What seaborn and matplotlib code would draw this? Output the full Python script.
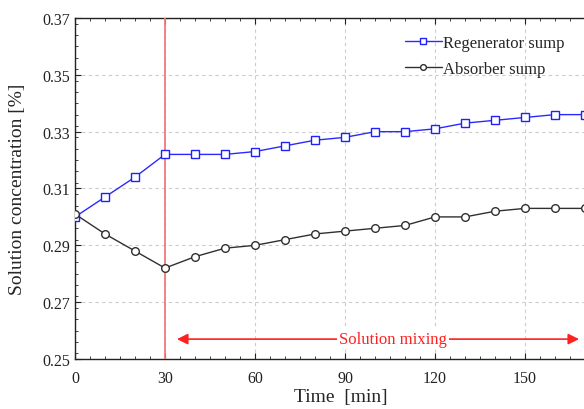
import numpy as np
import pandas as pd
import matplotlib
matplotlib.use('Agg')
import matplotlib.pyplot as plt
from matplotlib.ticker import MultipleLocator
import seaborn as sns

# Data
time_min = [0, 10, 20, 30, 40, 50, 60, 70, 80, 90, 100, 110, 120, 130, 140, 150, 160, 170]
regenerator = [0.300, 0.307, 0.314, 0.322, 0.322, 0.322, 0.323, 0.325, 0.327, 0.328,
               0.330, 0.330, 0.331, 0.333, 0.334, 0.335, 0.336, 0.336]
absorber = [0.301, 0.294, 0.288, 0.282, 0.286, 0.289, 0.290, 0.292, 0.294, 0.295,
            0.296, 0.297, 0.300, 0.300, 0.302, 0.303, 0.303, 0.303]
mixing_start = 30
x_ticks = [0, 30, 60, 90, 120, 150]
y_ticks = [0.25, 0.27, 0.29, 0.31, 0.33, 0.35, 0.37]

sns.set_style('ticks')
plt.rcParams['font.family'] = ['Liberation Serif', 'DejaVu Serif']

df = pd.DataFrame({'time': time_min, 'regen': regenerator, 'absorb': absorber})

fig = plt.figure(figsize=(5.84, 4.10), dpi=100)
ax = fig.add_axes([75 / 584, 50 / 410, 510 / 584, 341 / 410])

sns.lineplot(data=df, x='time', y='regen', ax=ax, color='#2a2aff', lw=1.0,
             marker='s', markersize=5.5, markerfacecolor='white',
             markeredgecolor='#2020ff', markeredgewidth=1.0,
             label='Regenerator sump', zorder=4)
sns.lineplot(data=df, x='time', y='absorb', ax=ax, color='#303030', lw=1.0,
             marker='o', markersize=5.5, markerfacecolor='white',
             markeredgecolor='#303030', markeredgewidth=1.0,
             label='Absorber sump', zorder=4)

ax.axvline(mixing_start, color='#f27a7a', lw=1.3, zorder=3)

# mixing arrow
ax.annotate('', xy=(34, 0.257), xytext=(168, 0.257),
            arrowprops=dict(arrowstyle='<|-|>', color='#ff2020', lw=1.2,
                            mutation_scale=16, shrinkA=0, shrinkB=0))
ax.text(106, 0.257, 'Solution mixing', color='#ff2020', fontsize=12,
        ha='center', va='center', zorder=5,
        bbox=dict(facecolor='white', edgecolor='none', pad=1.5))

ax.set_xlim(0, 170)
ax.set_ylim(0.25, 0.37)
ax.set_xticks(x_ticks)
ax.set_yticks(y_ticks)
ax.set_yticklabels([f'{v:.2f}' for v in y_ticks])
ax.xaxis.set_minor_locator(MultipleLocator(5))
ax.yaxis.set_minor_locator(MultipleLocator(0.004))
ax.tick_params(which='both', direction='in', top=True, right=False,
               labelsize=11.5, colors='#222222')
ax.tick_params(which='major', length=4)
ax.tick_params(which='minor', length=2.5)
ax.tick_params(axis='x', pad=8)

ax.grid(True, which='major', ls=(0, (3, 3)), color='#cccccc', lw=0.8)
ax.spines['right'].set_visible(False)
for s in ['left', 'bottom', 'top']:
    ax.spines[s].set_color('#222222')
    ax.spines[s].set_linewidth(1.0)

ax.set_xlabel('Time  [min]', fontsize=14, labelpad=3)
ax.xaxis.set_label_coords(0.522, -0.085)
ax.set_ylabel('Solution concentration [%]', fontsize=14, labelpad=12)

ax.legend(loc='upper left', bbox_to_anchor=(0.647, 0.950), frameon=False,
          fontsize=12, handlelength=2.2, handletextpad=0.1,
          labelspacing=0.6, borderaxespad=0, borderpad=0, markerscale=0.75)

fig.savefig('out.png', dpi=100)
